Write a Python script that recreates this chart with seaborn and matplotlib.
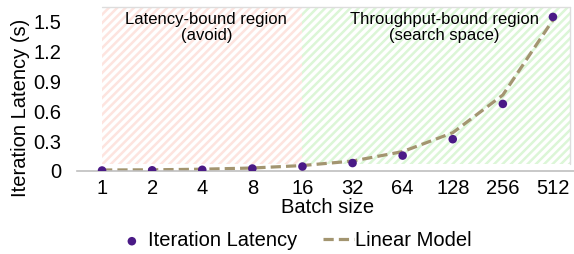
import numpy as np
import pandas as pd
import matplotlib
matplotlib.use("Agg")
import matplotlib.pyplot as plt
import seaborn as sns

batch_sizes = ["1", "2", "4", "8", "16", "32", "64", "128", "256", "512"]
iter_latency = [0.005, 0.007, 0.012, 0.025, 0.045, 0.08, 0.155, 0.32, 0.675, 1.55]
linear_model = [0.010, 0.012, 0.018, 0.030, 0.055, 0.100, 0.195, 0.385, 0.765, 1.520]
y_ticks = [0, 0.3, 0.6, 0.9, 1.2, 1.5]
y_tick_labels = ["0", "0.3", "0.6", "0.9", "1.2", "1.5"]

sns.set_style("white")
plt.rcParams["font.family"] = ["Liberation Sans", "DejaVu Sans"]
plt.rcParams["hatch.linewidth"] = 1.8
plt.rcParams["text.color"] = "black"
plt.rcParams["axes.labelcolor"] = "black"

df = pd.DataFrame({"batch": batch_sizes, "latency": iter_latency, "model": linear_model})

fig = plt.figure(figsize=(5.74, 2.54), dpi=100)
ax = fig.add_axes([77 / 574, 83 / 254, (578 - 77) / 574, 166 / 254])

# shaded regions (latency-bound / throughput-bound)
ax.fill_between([0, 4], 0.07, 1.65, facecolor="none", edgecolor="#fde4df",
                hatch="////", linewidth=0)
ax.fill_between([4, 9.35], 0.07, 1.65, facecolor="none", edgecolor="#dcf6d7",
                hatch="////", linewidth=0)
ax.plot([0, 9.35], [1.65, 1.65], color="#dddddd", lw=1)
ax.plot([9.35, 9.35], [0.07, 1.65], color="#dddddd", lw=1)

sns.lineplot(data=df, x="batch", y="model", ax=ax, color="#a39570", lw=2.3,
             linestyle=(0, (3.2, 1.6)), label="Linear Model", sort=False)
sns.scatterplot(data=df, x="batch", y="latency", ax=ax, color="#4a1a86", s=38,
                edgecolor="none", label="Iteration Latency", zorder=5)

ax.text(2.08, 1.60, "Latency-bound region\n(avoid)", ha="center", va="top",
        fontsize=12, linespacing=1.1)
ax.text(6.84, 1.60, "Throughput-bound region\n(search space)", ha="center", va="top",
        fontsize=12, linespacing=1.1)

ax.set_xlim(-0.5, 9.5)
ax.set_ylim(0, 1.67)
ax.set_yticks(y_ticks)
ax.set_yticklabels(y_tick_labels)
ax.set_xticks(range(len(batch_sizes)))
ax.set_xticklabels(batch_sizes)
ax.set_xticks(np.arange(-0.5, 10, 1), minor=True)
ax.tick_params(axis="x", which="major", length=0, labelsize=14.5, pad=6, labelcolor="black")
ax.tick_params(axis="x", which="minor", length=4, color="#bfbfbf", width=1)
ax.tick_params(axis="y", length=0, labelsize=14.5, pad=11, labelcolor="black")

for s in ["top", "right", "left"]:
    ax.spines[s].set_visible(False)
ax.spines["bottom"].set_color("#bfbfbf")
ax.spines["bottom"].set_linewidth(1.2)

ax.set_xlabel("Batch size", fontsize=14.5, labelpad=0)
ax.set_ylabel("Iteration Latency (s)", fontsize=14.5)
ax.yaxis.set_label_coords(-0.094, 0.38)

handles, labels = ax.get_legend_handles_labels()
order = [labels.index("Iteration Latency"), labels.index("Linear Model")]
ax.legend([handles[i] for i in order], [labels[i] for i in order], loc="center",
          bbox_to_anchor=(294 / 574, 13 / 254), bbox_transform=fig.transFigure, ncol=2,
          frameon=False, fontsize=14.5, handlelength=1.5, handletextpad=0.05,
          columnspacing=1.3, borderpad=0, borderaxespad=0)

plt.savefig("out.png", dpi=100)
